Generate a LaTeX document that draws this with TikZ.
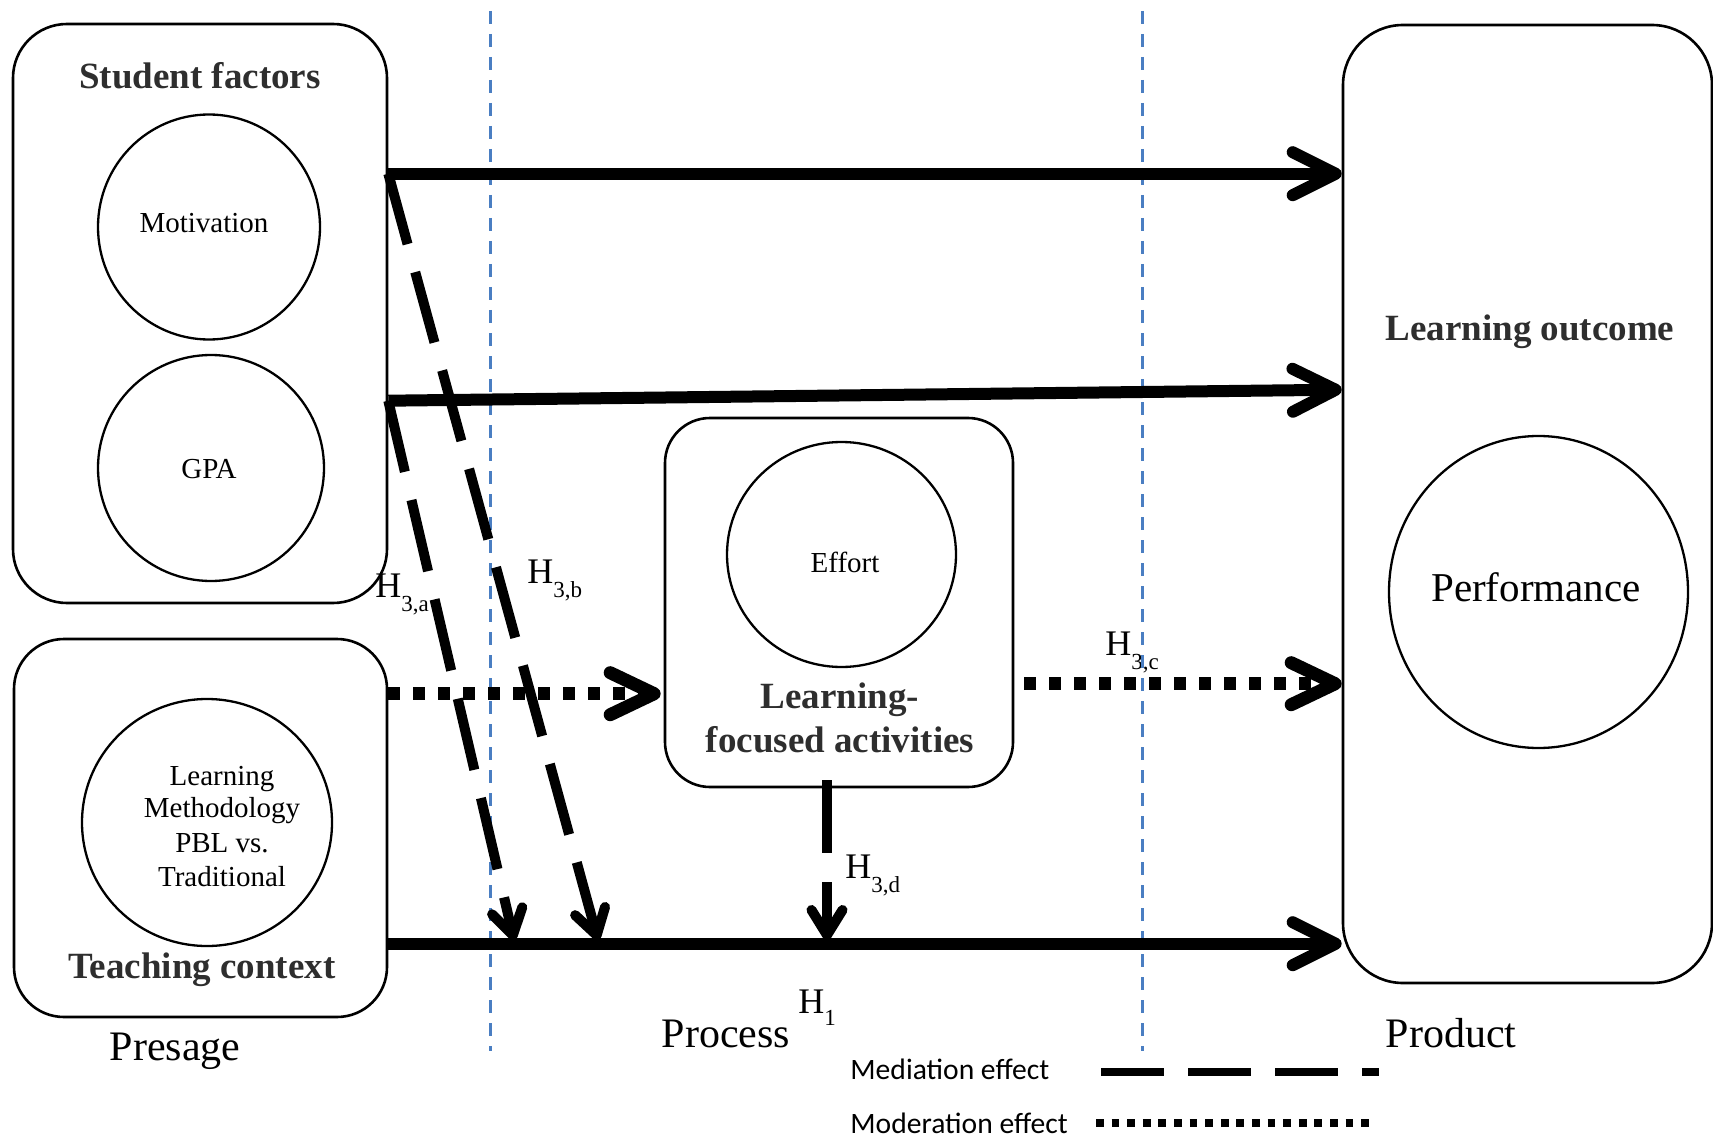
\documentclass[tikz,border=0pt]{standalone}
\usepackage{fontspec}
\setmainfont{Liberation Serif}
\newfontfamily\legendfont{Carlito}
\usetikzlibrary{arrows.meta,shapes.geometric,fit,calc}
\definecolor{lblgray}{HTML}{2E2E2E}
\definecolor{guideblue}{HTML}{4A7EC2}
\newcommand{\hyp}[2][6.5pt]{H\raisebox{-#1}{\fontsize{11.5}{12}\selectfont #2}}
\begin{document}
\begin{tikzpicture}[x=0.5pt,y=-0.5pt,
  box/.style={draw,line width=1.3pt,rounded corners=#1,inner sep=0pt},
  ell/.style={draw,ellipse,line width=1.15pt,inner sep=0pt},
  txt/.style={inner sep=0pt,anchor=base},
  boldlbl/.style={txt,text=lblgray,font=\fontsize{18.5}{22}\selectfont\bfseries},
  circtxt/.style={txt,font=\fontsize{14.5}{17}\selectfont},
  stagetxt/.style={txt,font=\fontsize{21}{25}\selectfont},
  hyplbl/.style={inner sep=0pt,anchor=base west,font=\fontsize{18}{20}\selectfont},
  legtxt/.style={inner sep=0pt,anchor=base west,font=\legendfont\fontsize{14.8}{17}\selectfont},
  solidarr/.style={line width=6pt,-{Straight Barb[length=21.5pt,width=21.5pt,round]}},
  medarr/.style={line width=5pt,dash pattern=on 36.5pt off 14.5pt,-{Straight Barb[length=12.5pt,width=15.5pt,round]}},
  modarr/.style={line width=6.5pt,dash pattern=on 6pt off 6.5pt,-{Straight Barb[length=22pt,width=21pt,round]}},
  guide/.style={guideblue,line width=1.5pt,dash pattern=on 6.5pt off 5pt},
  legmed/.style={line width=4pt,dash pattern=on 31.5pt off 12pt},
  legmod/.style={line width=4pt,dash pattern=on 3.9pt off 3.9pt}
]
\useasboundingbox (0,0) rectangle (1713,1139);

% boxes
\node[box=27pt,fit={(13,24)(387,603)}] (sf) {};
\node[box=25pt,fit={(14,639)(387,1017)}] (tc) {};
\node[box=22.5pt,fit={(665,418)(1013,787)}] (lfa) {};
\node[box=30pt,fit={(1343,25)(1712,983)}] (lo) {};

% circles
\node[ell,minimum width=111pt,minimum height=112.5pt] (mot) at (209,227) {};
\node[ell,minimum width=113pt,minimum height=113pt] (gpa) at (211,468) {};
\node[ell,minimum width=125pt,minimum height=123.5pt] (lm) at (207,822.5) {};
\node[ell,minimum width=114.5pt,minimum height=112.5pt] (eff) at (841.5,554.5) {};
\node[ell,minimum width=149.5pt,minimum height=156pt] (perf) at (1538.5,592) {};

% texts
\node[boldlbl] (sft) at (200,89) {Student factors};
\node[circtxt] (mott) at (204,233) {Motivation};
\node[circtxt] (gpat) at (209,478) {GPA};
\node[circtxt] (lm1) at (222,785) {Learning};
\node[circtxt] (lm2) at (222,817) {Methodology};
\node[circtxt] (lm3) at (222,852) {PBL vs.};
\node[circtxt] (lm4) at (222,886) {Traditional};
\node[boldlbl] (tct) at (202,978) {Teaching context};
\node[circtxt] (efft) at (845,572) {Effort};
\node[boldlbl] (lfa1) at (840,708) {Learning-};
\node[boldlbl] (lfa2) at (840,752) {focused activities};
\node[boldlbl] (lot) at (1530,340) {Learning outcome};
\node[txt,font=\fontsize{20.5}{24}\selectfont] (perft) at (1536,601) {Performance};
\node[stagetxt] (pres) at (175,1060) {Presage};
\node[stagetxt] (proc) at (726,1047) {Process};
\node[stagetxt] (prod) at (1451,1047) {Product};

% hypothesis labels
\node[hyplbl] (h3a) at (375,597) {\hyp[7pt]{3,a}};
\node[hyplbl] (h3b) at (527,583) {\hyp[7pt]{3,b}};
\node[hyplbl] (h3c) at (1105,655) {\hyp[7pt]{3,c}};
\node[hyplbl] (h3d) at (845,878) {\hyp[7pt]{3,d}};
\node[hyplbl] (h1) at (798,1013) {\hyp[6pt]{1}};

% guide lines
\coordinate (g1t) at (490.5,11); \coordinate (g1b) at (490.5,1051);
\coordinate (g2t) at (1142,11);  \coordinate (g2b) at (1142,1051);
\draw[guide] (g1t) -- (g1b);
\draw[guide] (g2t) -- (g2b);

% connector end points
\path (sf.north east) ++(0,151) coordinate (sfA);
\path (sf.north east) ++(0,378) coordinate (sfB);
\path (tc.north east) ++(0,56) coordinate (tcA);
\path (tc.north east) ++(0,306) coordinate (tcB);
\path (lo.north west) ++(0,366) coordinate (loB);
\path (lo.north west) ++(0,660) coordinate (loC);
\path (lfa.north west) ++(-3,277) coordinate (lfaIn);
\path (lfa.north east) ++(10,267) coordinate (lfaOut);
\path (lfa.south) ++(-12,-8) coordinate (lfaDown);
\coordinate (tipA) at (514,940);
\coordinate (tipB) at (598,940);
\coordinate (tipD) at (827,940);

% main arrows
\draw[solidarr] (sfA) -- (lo.west |- sfA);
\draw[solidarr] (sfB) -- (loB);
\draw[solidarr] (tcB) -- (lo.west |- tcB);
\draw[modarr] (tcA) -- (lfaIn);
\draw[modarr] (lfaOut) -- (loC);
\draw[medarr] (sfA) -- (tipB);
\draw[medarr] (sfB) -- (tipA);
\draw[medarr] (lfaDown) -- (tipD);

% legend
\node[legtxt] (med) at (850,1079) {Mediation effect};
\node[legtxt] (mod) at (850,1133) {Moderation effect};
\coordinate (medA) at (1101,1072); \coordinate (medB) at (1379,1072);
\coordinate (modA) at (1096,1123); \coordinate (modB) at (1375,1123);
\draw[legmed] (medA) -- (medB);
\draw[legmod] (modA) -- (modB);
\end{tikzpicture}
\end{document}
